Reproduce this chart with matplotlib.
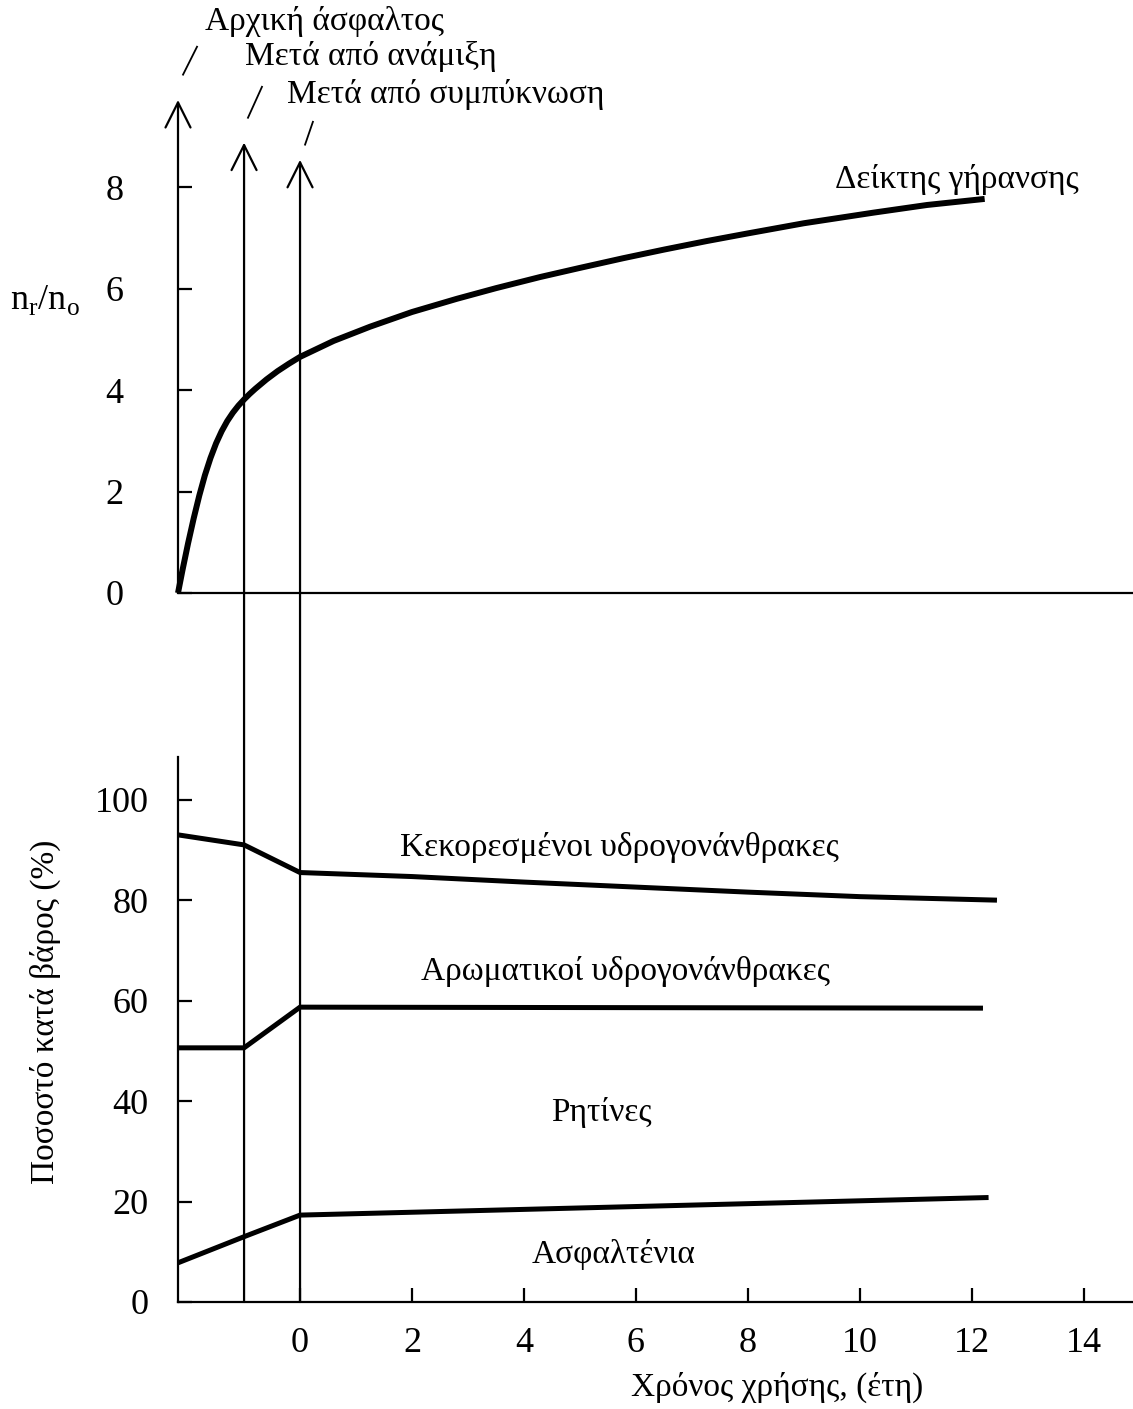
import numpy as np
import matplotlib.pyplot as plt
from matplotlib.patches import ConnectionPatch

plt.rcParams['font.family'] = ['Liberation Serif', 'DejaVu Serif']
plt.rcParams['mathtext.fontset'] = 'custom'
plt.rcParams['mathtext.rm'] = 'Liberation Serif'

# event positions on the time axis (years)
x_initial = -2.18
x_mixing = -1.0
x_compact = 0.0

# ageing index n_r/n_o
age_x = [-2.18, -2.1, -2.0, -1.9, -1.8, -1.7, -1.6, -1.5, -1.4, -1.3, -1.2, -1.1, -1.0,
         -0.9, -0.8, -0.6, -0.4, -0.2, 0.0, 0.6, 1.25, 2.0, 2.8, 3.5, 4.29, 5.0, 5.77,
         6.5, 7.27, 8.0, 9.0, 10.25, 11.2, 12.23]
age_y = [0.0, 0.45, 0.98, 1.47, 1.92, 2.32, 2.66, 2.95, 3.19, 3.39, 3.555, 3.695, 3.815,
         3.925, 4.025, 4.21, 4.375, 4.52, 4.655, 4.97, 5.25, 5.54, 5.8, 6.01, 6.23, 6.41, 6.6,
         6.77, 6.94, 7.09, 7.29, 7.5, 7.65, 7.77]

# composition (% by weight)
sat_x = [-2.18, -1.0, 0.0, 2, 4, 6, 8, 10, 12.45]
sat_y = [93.0, 91.0, 85.5, 84.7, 83.6, 82.6, 81.6, 80.7, 80.0]
aro_x = [-2.18, -1.0, 0.0, 12.2]
aro_y = [50.6, 50.6, 58.7, 58.5]
asp_x = [-2.18, -1.0, 0.0, 12.3]
asp_y = [7.8, 13.0, 17.3, 20.8]

xticks = [0, 2, 4, 6, 8, 10, 12, 14]
yticks_top = [0, 2, 4, 6, 8]
yticks_bot = [0, 20, 40, 60, 80, 100]

W, H = 1133, 1409
fig = plt.figure(figsize=(W / 100, H / 100), dpi=100)

ax_bot = fig.add_axes([178 / W, 1 - 1302 / H, (1133 - 178) / W, (1302 - 757) / H])
ax_top = fig.add_axes([178 / W, 1 - 593 / H, (1133 - 178) / W, (593 - 100) / H])

xlim = (-2.18, 14.88)
fs = 24
tfs = 26

# ---- top panel
ax_top.set_xlim(*xlim)
ax_top.set_ylim(0, 9.72)
for s in ['top', 'right', 'left']:
    ax_top.spines[s].set_visible(False)
ax_top.spines['bottom'].set_linewidth(1.6)
ax_top.set_xticks([])
ax_top.set_yticks(yticks_top)
ax_top.tick_params(axis='y', direction='in', length=10, width=1.6, labelsize=tfs, pad=39)
ax_top.plot(age_x, age_y, color='black', lw=4.3, solid_capstyle='butt',
            solid_joinstyle='round', clip_on=False)
ax_top.text(11.73, 8.15, 'Δείκτης γήρανσης', fontsize=fs, ha='center', va='center')

arrow = dict(arrowstyle='->,head_length=0.9,head_width=0.45', color='black', lw=1.6,
             shrinkA=0, shrinkB=0, mutation_scale=20)
ax_top.annotate('', xy=(x_initial, 9.72), xytext=(x_initial, 0), arrowprops=arrow,
                annotation_clip=False)

# ---- bottom panel
ax_bot.set_xlim(*xlim)
ax_bot.set_ylim(0, 108.5)
for s in ['top', 'right']:
    ax_bot.spines[s].set_visible(False)
for s in ['left', 'bottom']:
    ax_bot.spines[s].set_linewidth(1.6)
ax_bot.set_xticks(xticks)
ax_bot.set_yticks(yticks_bot)
ax_bot.tick_params(direction='in', length=10, width=1.6, labelsize=tfs)
ax_bot.tick_params(axis='x', pad=18)
ax_bot.tick_params(axis='y', pad=21)

for xs, ys in [(sat_x, sat_y), (aro_x, aro_y), (asp_x, asp_y)]:
    ax_bot.plot(xs, ys, color='black', lw=3.6, solid_capstyle='butt', clip_on=False)

ax_bot.text(5.71, 90.4, 'Κεκορεσμένοι υδρογονάνθρακες', fontsize=fs, ha='center', va='center')
ax_bot.text(5.82, 65.7, 'Αρωματικοί υδρογονάνθρακες', fontsize=fs, ha='center', va='center')
ax_bot.text(5.38, 37.8, 'Ρητίνες', fontsize=fs, ha='center', va='center')
ax_bot.text(5.6, 9.4, 'Ασφαλτένια', fontsize=fs, ha='center', va='center')

# vertical lines through both panels with arrow heads on top
for xv, tip in [(x_mixing, 8.88), (x_compact, 8.54)]:
    con = ConnectionPatch(xyA=(xv, 0), coordsA=ax_bot.transData,
                          xyB=(xv, tip), coordsB=ax_top.transData, **arrow)
    fig.add_artist(con)

# stage labels with leader lines
stages = [('Αρχική άσφαλτος', -1.70, 11.26, (-2.09, -1.84), (10.22, 10.77)),
          ('Μετά από ανάμιξη', -0.98, 10.57, (-0.93, -0.68), (9.37, 9.98)),
          ('Μετά από συμπύκνωση', -0.23, 9.82, (0.09, 0.23), (8.84, 9.29))]
for label, tx, ty, lx, ly in stages:
    ax_top.text(tx, ty, label, fontsize=fs, ha='left', va='center', clip_on=False)
    ax_top.plot(lx, ly, color='black', lw=1.3, clip_on=False)

fig.text(45 / W, 1 - 300 / H, r'n$_\mathrm{r}$/n$_\mathrm{o}$', fontsize=tfs, ha='center', va='center')
fig.text(45 / W, 1 - 1012 / H, 'Ποσοστό κατά βάρος (%)', fontsize=24, rotation=90,
         ha='center', va='center')
fig.text(777 / W, 1 - 1387 / H, 'Χρόνος χρήσης, (έτη)', fontsize=24, ha='center', va='center')

fig.savefig('out.png', dpi=100)
